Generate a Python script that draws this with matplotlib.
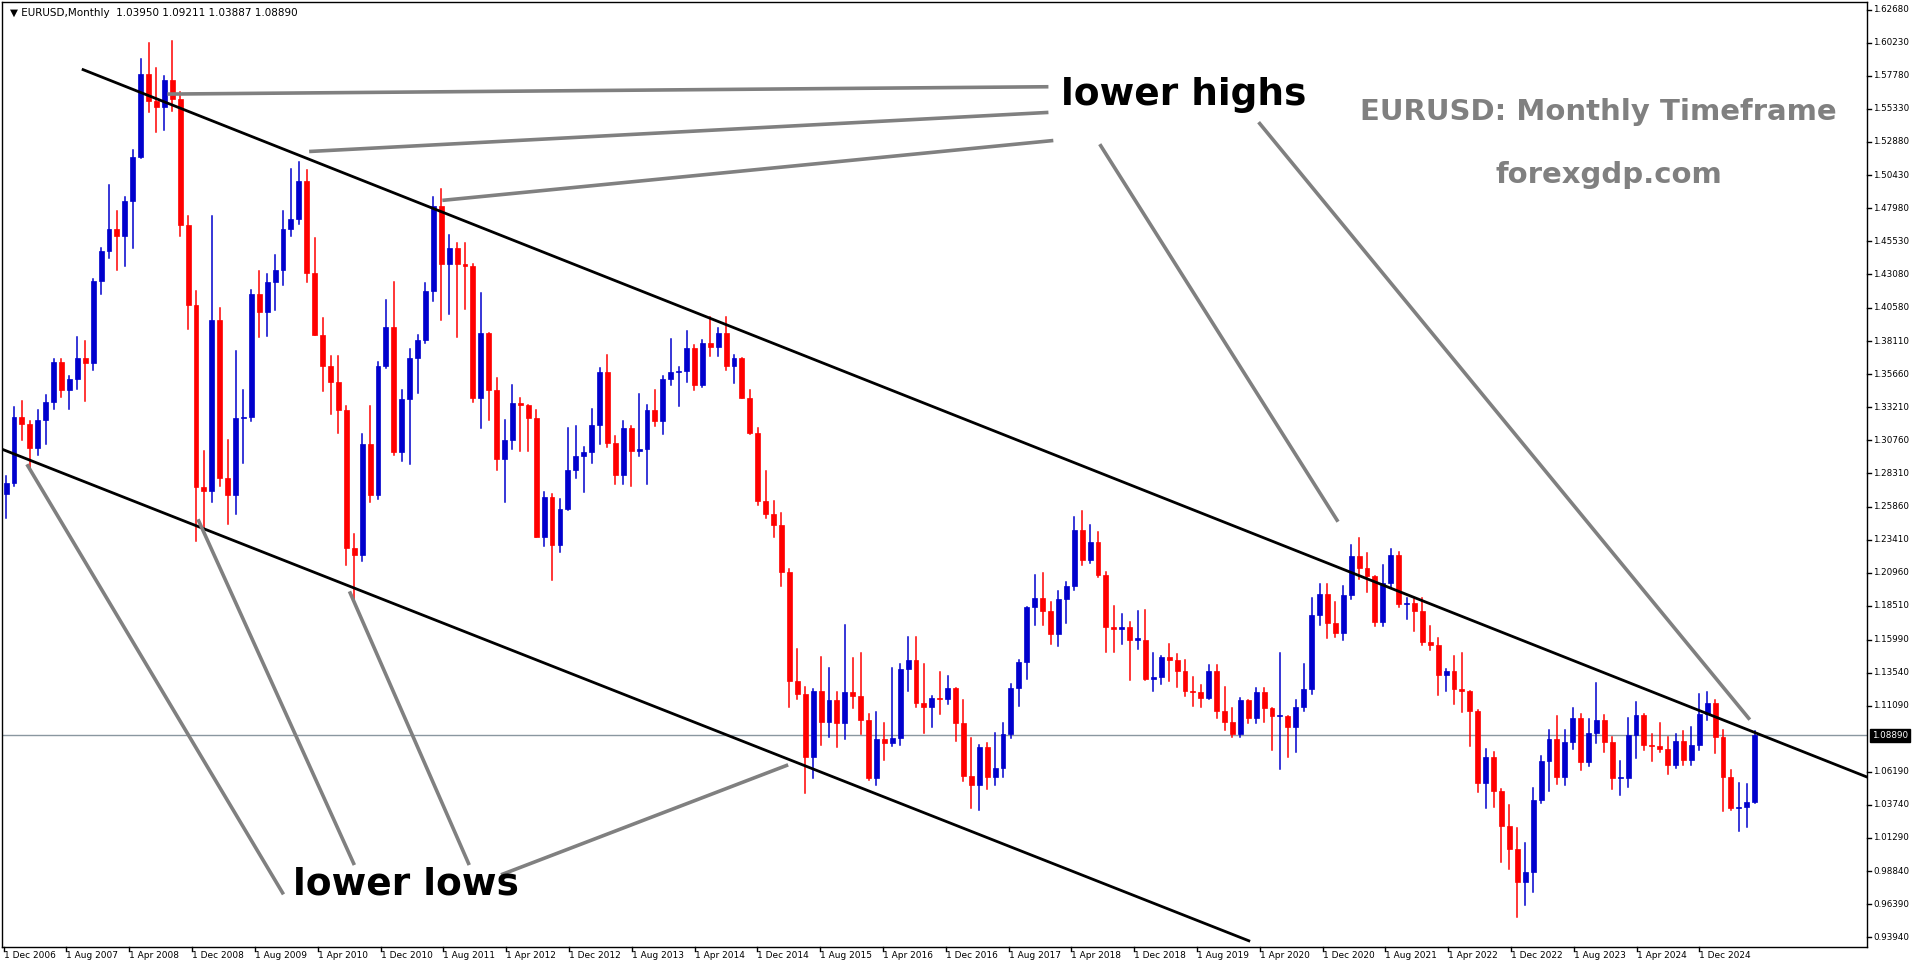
import matplotlib
matplotlib.use("Agg")
import matplotlib.pyplot as plt
from matplotlib.patches import Rectangle

# ---- data: EURUSD monthly, Oct 2006 .. Mar 2025 ----
closes = [1.276,1.325,1.320,
 1.302,1.323,1.336,1.366,1.345,1.353,1.369,1.365,1.426,1.448,1.464,1.459,
 1.485,1.518,1.579,1.559,1.555,1.575,1.561,1.467,1.408,1.273,1.270,1.397,
 1.280,1.267,1.324,1.325,1.416,1.403,1.425,1.434,1.464,1.472,1.500,1.432,
 1.386,1.363,1.351,1.330,1.228,1.223,1.305,1.267,1.363,1.392,1.299,1.338,
 1.369,1.382,1.418,1.481,1.438,1.450,1.438,1.437,1.339,1.387,1.345,1.294,
 1.308,1.335,1.334,1.324,1.236,1.266,1.230,1.257,1.286,1.296,1.299,1.319,
 1.358,1.306,1.282,1.317,1.300,1.301,1.330,1.322,1.353,1.358,1.359,1.376,
 1.349,1.380,1.377,1.387,1.363,1.369,1.339,1.313,1.263,1.253,1.245,1.210,
 1.129,1.120,1.073,1.122,1.099,1.115,1.098,1.121,1.118,1.100,1.057,1.086,
 1.083,1.087,1.138,1.145,1.113,1.110,1.117,1.116,1.124,1.098,1.059,1.052,
 1.080,1.058,1.065,1.090,1.124,1.143,1.184,1.191,1.181,1.164,1.190,1.200,
 1.241,1.219,1.232,1.208,1.169,1.168,1.169,1.160,1.160,1.131,1.132,1.147,
 1.145,1.137,1.122,1.121,1.117,1.137,1.107,1.099,1.090,1.115,1.102,1.121,
 1.109,1.103,1.103,1.095,1.110,1.123,1.178,1.194,1.172,1.165,1.193,1.222,
 1.213,1.207,1.173,1.202,1.223,1.186,1.187,1.181,1.158,1.156,1.134,1.137,
 1.123,1.122,1.107,1.054,1.073,1.048,1.022,1.005,0.980,0.988,1.041,1.070,
 1.086,1.058,1.084,1.102,1.069,1.091,1.100,1.084,1.057,1.057,1.089,1.104,
 1.082,1.081,1.079,1.067,1.085,1.071,1.082,1.105,1.113,1.088,1.058,1.035,
 1.036,1.0395,1.0889]
highs = [1.281,1.332,1.337,
 1.322,1.330,1.341,1.368,1.368,1.355,1.384,1.381,1.427,1.450,1.497,1.478,
 1.488,1.523,1.590,1.602,1.584,1.578,1.604,1.566,1.474,1.418,1.300,1.474,
 1.406,1.308,1.374,1.345,1.419,1.433,1.431,1.445,1.478,1.509,1.514,1.508,
 1.458,1.398,1.370,1.370,1.333,1.238,1.312,1.333,1.366,1.412,1.425,1.345,
 1.375,1.386,1.424,1.488,1.494,1.460,1.454,1.454,1.438,1.417,1.386,1.354,
 1.323,1.349,1.339,1.331,1.330,1.269,1.268,1.264,1.317,1.318,1.303,1.331,
 1.361,1.371,1.311,1.322,1.318,1.342,1.334,1.345,1.355,1.383,1.362,1.389,
 1.378,1.382,1.399,1.391,1.399,1.371,1.369,1.345,1.317,1.285,1.263,1.254,
 1.212,1.153,1.125,1.123,1.147,1.139,1.121,1.171,1.146,1.150,1.105,1.106,
 1.098,1.139,1.142,1.162,1.162,1.142,1.118,1.136,1.133,1.124,1.115,1.087,
 1.082,1.083,1.091,1.098,1.127,1.145,1.178,1.208,1.209,1.188,1.196,1.203,
 1.251,1.255,1.245,1.240,1.210,1.185,1.179,1.173,1.181,1.182,1.150,1.148,
 1.157,1.149,1.145,1.132,1.126,1.141,1.141,1.125,1.109,1.117,1.109,1.124,
 1.124,1.104,1.150,1.101,1.115,1.142,1.191,1.201,1.201,1.188,1.200,1.230,
 1.235,1.224,1.199,1.215,1.227,1.225,1.191,1.190,1.191,1.170,1.161,1.138,
 1.148,1.150,1.118,1.108,1.079,1.077,1.049,1.037,1.020,1.009,1.050,1.074,
 1.093,1.103,1.093,1.109,1.105,1.101,1.128,1.104,1.088,1.070,1.102,1.114,
 1.105,1.090,1.098,1.088,1.090,1.092,1.095,1.120,1.121,1.115,1.093,1.063,
 1.054,1.053,1.09211]
lows = [1.250,1.274,1.308,
 1.287,1.297,1.305,1.331,1.340,1.331,1.346,1.337,1.360,1.416,1.443,1.434,
 1.437,1.450,1.517,1.551,1.536,1.538,1.552,1.459,1.390,1.233,1.243,1.262,
 1.274,1.246,1.253,1.291,1.322,1.384,1.385,1.404,1.423,1.459,1.468,1.425,
 1.386,1.344,1.327,1.313,1.215,1.188,1.218,1.262,1.264,1.361,1.297,1.292,
 1.290,1.343,1.380,1.411,1.397,1.401,1.384,1.405,1.336,1.317,1.323,1.286,
 1.262,1.301,1.300,1.300,1.236,1.229,1.204,1.225,1.256,1.280,1.269,1.291,
 1.305,1.303,1.275,1.275,1.274,1.296,1.275,1.318,1.312,1.349,1.333,1.351,
 1.345,1.347,1.370,1.370,1.360,1.350,1.339,1.312,1.260,1.250,1.236,1.200,
 1.110,1.116,1.046,1.057,1.082,1.088,1.080,1.086,1.109,1.090,1.056,1.052,
 1.071,1.081,1.082,1.122,1.110,1.091,1.095,1.105,1.112,1.085,1.055,1.035,
 1.034,1.049,1.052,1.058,1.087,1.111,1.131,1.171,1.171,1.157,1.155,1.172,
 1.197,1.215,1.217,1.206,1.151,1.151,1.157,1.130,1.153,1.130,1.122,1.127,
 1.129,1.125,1.118,1.111,1.110,1.116,1.102,1.093,1.088,1.088,1.098,1.098,
 1.099,1.078,1.064,1.073,1.077,1.107,1.120,1.171,1.161,1.162,1.160,1.190,
 1.205,1.195,1.170,1.170,1.199,1.184,1.175,1.166,1.156,1.152,1.119,1.122,
 1.112,1.106,1.081,1.047,1.035,1.036,0.995,0.990,0.954,0.963,0.973,1.039,
 1.048,1.053,1.052,1.079,1.063,1.066,1.083,1.077,1.049,1.045,1.051,1.072,
 1.078,1.070,1.077,1.060,1.065,1.067,1.067,1.078,1.100,1.076,1.033,1.034,
 1.018,1.021,1.03887]
first_open = 1.268
opens = [first_open] + closes[:-1]

date_labels = ["1 Dec 2006","1 Aug 2007","1 Apr 2008","1 Dec 2008","1 Aug 2009","1 Apr 2010",
 "1 Dec 2010","1 Aug 2011","1 Apr 2012","1 Dec 2012","1 Aug 2013","1 Apr 2014","1 Dec 2014",
 "1 Aug 2015","1 Apr 2016","1 Dec 2016","1 Aug 2017","1 Apr 2018","1 Dec 2018","1 Aug 2019",
 "1 Apr 2020","1 Dec 2020","1 Aug 2021","1 Apr 2022","1 Dec 2022","1 Aug 2023","1 Apr 2024","1 Dec 2024"]
price_ticks = [1.62680,1.60230,1.57780,1.55330,1.52880,1.50430,1.47980,1.45530,1.43080,1.40580,
 1.38110,1.35660,1.33210,1.30760,1.28310,1.25860,1.23410,1.20960,1.18510,1.15990,1.13540,
 1.11090,1.06190,1.03740,1.01290,0.98840,0.96390,0.93940]
last_price = 1.08890

# ---- pixel helpers (reference displayed at 1568x789) ----
W, H = 1568.0, 789.0
def xi(px): return (px - 5) / 6.475
def yp(py): return 1.6268 - (py - 8) / 1104.2

fig = plt.figure(figsize=(19.16, 9.64), dpi=100)
ax = fig.add_axes([2/W, 1-775/H, 1526/W, 773/H])
ax.set_xlim(xi(2), xi(1528))
ax.set_ylim(yp(775), yp(2))

bw = 0.62
for i, (o, h, l, c) in enumerate(zip(opens, highs, lows, closes)):
    col = '#0000CD' if c >= o else '#FF0000'
    ax.plot([i, i], [min(l, o, c), max(h, o, c)], color=col, lw=1.1, zorder=3)
    ax.add_patch(Rectangle((i - bw/2, min(o, c)), bw, max(abs(c - o), 0.0008),
                           facecolor=col, edgecolor=col, lw=0.5, zorder=4))

ax.axhline(last_price, color='#8a97a0', lw=1, zorder=2)

ax.plot([xi(68), xi(1528)], [yp(57), yp(636)], color='black', lw=2, zorder=5)
ax.plot([xi(0), xi(1022)], [yp(367), yp(770)], color='black', lw=2, zorder=5)

gray = '#808080'
for (x1, y1, x2, y2) in [(137,77,858,71),(253,124,858,92),(362,164,862,115),
                         (900,118,1095,427),(1030,100,1432,589),
                         (22,380,232,732),(162,425,290,708),(286,484,384,708),(410,716,645,626)]:
    ax.plot([xi(x1), xi(x2)], [yp(y1), yp(y2)], color=gray, lw=2.6, zorder=6,
            solid_capstyle='butt')

ax.set_xticks([]); ax.set_yticks([])
for s in ax.spines.values():
    s.set_color('black'); s.set_linewidth(1)

for p in price_ticks:
    ax.plot([xi(1528), xi(1531)], [p, p], color='black', lw=1, clip_on=False)
    ax.text(xi(1533), p, f"{p:.5f}", fontsize=6.3, va='center', ha='left', clip_on=False)
ax.text(xi(1532), last_price, f"{last_price:.5f}", fontsize=6.3, va='center', ha='left',
        color='white', clip_on=False,
        bbox=dict(boxstyle='square,pad=0.25', fc='black', ec='black'))

for k, lab in enumerate(date_labels):
    px = 3 + k * 51.4
    ax.plot([xi(px), xi(px)], [yp(775), yp(778)], color='black', lw=1, clip_on=False)
    ax.text(xi(px), yp(778), lab, fontsize=6.5, ha='left', va='top', clip_on=False)

fig.text(8/W, 1-11/H, "\u25BC EURUSD,Monthly  1.03950 1.09211 1.03887 1.08890",
         fontsize=7.5, va='center', ha='left')
fig.text(868/W, 1-78/H, "lower highs", fontsize=27, fontweight='bold', va='center', ha='left')
fig.text(240/W, 1-724/H, "lower lows", fontsize=27, fontweight='bold', va='center', ha='left')
fig.text(1308/W, 1-92/H, "EURUSD: Monthly Timeframe", fontsize=21, fontweight='bold',
         color='#808080', va='center', ha='center')
fig.text(1317/W, 1-143/H, "forexgdp.com", fontsize=21, fontweight='bold',
         color='#808080', va='center', ha='center')

fig.savefig("out.png", dpi=100, facecolor='white')
